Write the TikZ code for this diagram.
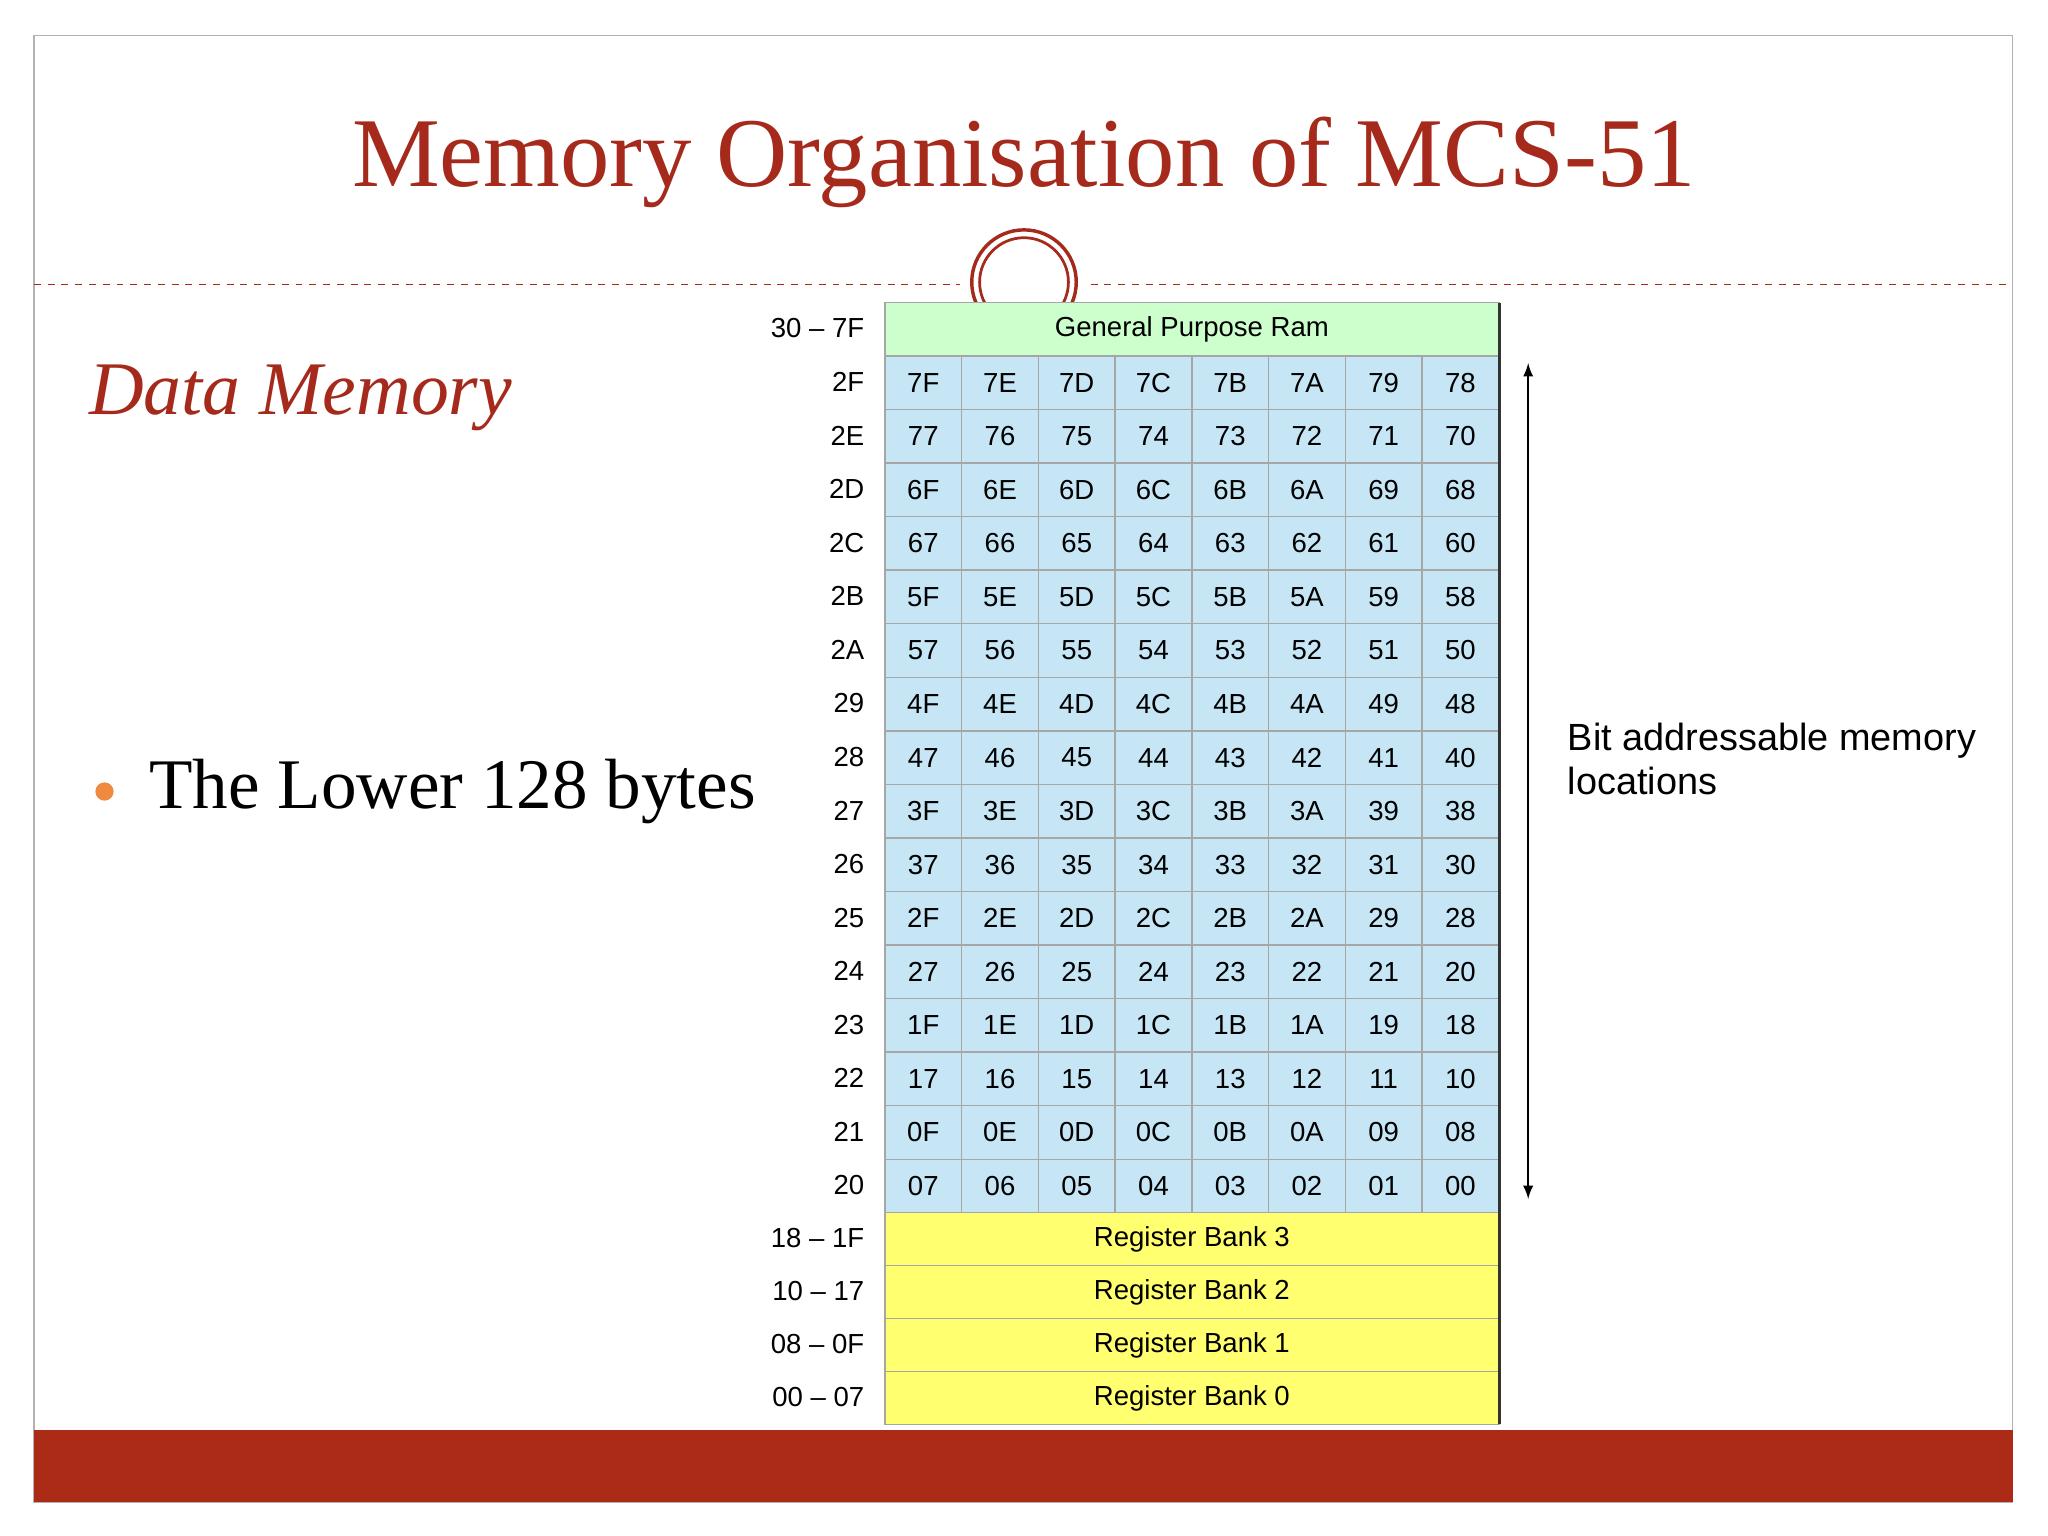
\documentclass[tikz,border=0pt]{standalone}
\usepackage{fontspec}
\setmainfont{Liberation Serif}
\setsansfont{Liberation Sans}
\definecolor{titred}{HTML}{A52A1C}
\definecolor{band}{HTML}{AC2B17}
\definecolor{gpr}{HTML}{CCFFCC}
\definecolor{bitc}{HTML}{C6E6F6}
\definecolor{bank}{HTML}{FFFF70}
\definecolor{bul}{HTML}{F08A40}
\begin{document}
\begin{tikzpicture}[x=0.02cm,y=-0.02cm,
  cell/.style={draw=gray!70,line width=0.6pt,fill=bitc,minimum width=58.75*0.02cm,minimum height=41*0.02cm,inner sep=0,font=\sffamily\fontsize{12}{14}\selectfont},
  rowlab/.style={anchor=east,inner sep=0,font=\sffamily\fontsize{12}{14}\selectfont},
  wide/.style={draw=gray!70,line width=0.6pt,minimum width=470*0.02cm,inner sep=0,font=\sffamily\fontsize{12}{14}\selectfont}]
\useasboundingbox (0,0) rectangle (1568,1176);
\fill[white] (0,0) rectangle (1568,1176);
\draw[gray!60,line width=0.6pt] (26,27) rectangle (1541,1150);
\fill[band] (26,1095) rectangle (1541,1150);
\draw[titred,dashed,line width=0.5pt] (26,218) -- (735,218) (835,218) -- (1541,218);
\begin{scope}
\clip (700,150) rectangle (870,232);
\draw[titred,line width=1.5pt] (784,216) circle (40);
\draw[titred,line width=1.2pt] (784,216) circle (34);
\end{scope}
\node[titred,font=\fontsize{43}{50}\selectfont] (title) at (784,124) {Memory Organisation of MCS-51};
\node[titred,anchor=west,inner sep=0,font=\itshape\fontsize{33}{38}\selectfont] (dm) at (68,305) {Data Memory};
\fill[bul] (80,606) circle (0.14cm);
\node[anchor=west,inner sep=0,font=\fontsize{31}{36}\selectfont] (low) at (114,606) {The Lower 128 bytes};
% table
\node[wide,fill=gpr,minimum height=41*0.02cm,anchor=north west] (gp) at (677,231) {General Purpose Ram};
\node[rowlab] (lgp) at (662,251) {30 -- 7F};
\foreach \r/\lab/\bits [count=\i from 0] in {
 2F/2F/{7F,7E,7D,7C,7B,7A,79,78},
 2E/2E/{77,76,75,74,73,72,71,70},
 2D/2D/{6F,6E,6D,6C,6B,6A,69,68},
 2C/2C/{67,66,65,64,63,62,61,60},
 2B/2B/{5F,5E,5D,5C,5B,5A,59,58},
 2A/2A/{57,56,55,54,53,52,51,50},
 29/29/{4F,4E,4D,4C,4B,4A,49,48},
 28/28/{47,46,45,44,43,42,41,40},
 27/27/{3F,3E,3D,3C,3B,3A,39,38},
 26/26/{37,36,35,34,33,32,31,30},
 25/25/{2F,2E,2D,2C,2B,2A,29,28},
 24/24/{27,26,25,24,23,22,21,20},
 23/23/{1F,1E,1D,1C,1B,1A,19,18},
 22/22/{17,16,15,14,13,12,11,10},
 21/21/{0F,0E,0D,0C,0B,0A,09,08},
 20/20/{07,06,05,04,03,02,01,00}} {
  \node[rowlab] (l\r) at (662,292.5+41*\i) {\lab};
  \foreach \b [count=\j from 0] in \bits {
    \node[cell,anchor=north west] (c\r-\j) at (677+58.75*\j,272+41*\i) {\b};
  }
}
\foreach \n/\lab/\txt [count=\k from 0] in {b3/18 -- 1F/Register Bank 3,b2/10 -- 17/Register Bank 2,b1/08 -- 0F/Register Bank 1,b0/00 -- 07/Register Bank 0} {
  \node[wide,fill=bank,minimum height=40.5*0.02cm,anchor=north west] (\n) at (677,928+40.5*\k) {\txt};
  \node[rowlab] (l\n) at (662,948+40.5*\k) {\lab};
}
\draw[gray!40!black,line width=1.2pt] (1148,232) -- (1148,1090);
\coordinate (at) at (1170,278);
\coordinate (ab) at (1170,918);
\draw[-latex,line width=1pt] (1170,598) -- (at);
\draw[-latex,line width=1pt] (1170,598) -- (ab);
\node[anchor=north west,inner sep=0,align=left,font=\sffamily\fontsize{16.5}{19.5}\selectfont] (bam) at (1200,553) {Bit addressable memory\\locations};
\end{tikzpicture}
\end{document}
